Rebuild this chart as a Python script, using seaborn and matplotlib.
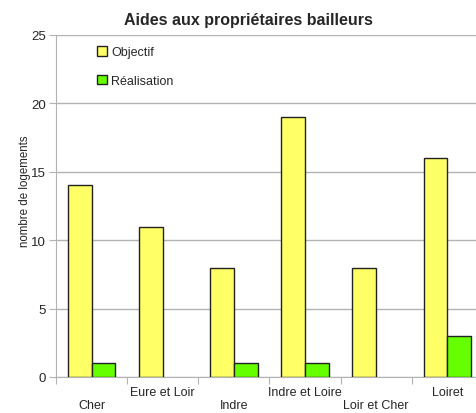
import pandas as pd
import seaborn as sns
import matplotlib.pyplot as plt

departements = ["Cher", "Eure et Loir", "Indre", "Indre et Loire", "Loir et Cher", "Loiret"]
objectif = [14, 11, 8, 19, 8, 16]
realisation = [1, 0, 1, 1, 0, 3]

df = pd.DataFrame({
    "departement": departements * 2,
    "serie": ["Objectif"] * 6 + ["Réalisation"] * 6,
    "valeur": objectif + realisation,
})

sns.set_style("white")
plt.rcParams['font.family'] = ['Liberation Sans', 'DejaVu Sans']

fig = plt.figure(figsize=(4.76, 4.14), dpi=100)
# the right edge of the plot area goes past the image, as in the original
ax = fig.add_axes([56 / 476, 1 - 378 / 414, 427 / 476, 342 / 414])

sns.barplot(data=df, x="departement", y="valeur", hue="serie",
            palette=["#FFFF66", "#66FF00"], saturation=1, edgecolor="#222222", linewidth=1,
            width=0.67, gap=0, ax=ax, zorder=3)

# no outline for empty bars
for p in ax.patches:
    if p.get_height() == 0:
        p.set_linewidth(0)

ax.set_ylim(0, 25)
ax.set_yticks(range(0, 26, 5))
ax.set_xlim(-0.5, 5.5)
ax.yaxis.grid(True, color="#b3b3b3", linewidth=1, zorder=0)
for s in ["top", "right"]:
    ax.spines[s].set_visible(False)
for s in ["left", "bottom"]:
    ax.spines[s].set_color("#b3b3b3")

ax.tick_params(axis="y", left=True, length=5, color="#b3b3b3", labelsize=9.5, pad=2)
# x ticks sit at category boundaries, labels staggered in two rows
ax.set_xticks([i - 0.5 for i in range(6)])
ax.set_xticklabels([])
ax.tick_params(axis="x", bottom=True, length=5, color="#b3b3b3")
for i, name in enumerate(departements):
    y = -0.083 if i % 2 == 0 else -0.043
    ax.text(i, y, name, transform=ax.get_xaxis_transform(), ha="center", va="center", fontsize=9)

ax.set_xlabel("")
ax.set_ylabel("nombre de logements", fontsize=8.3)
ax.yaxis.set_label_coords(-0.058, 0.545)
ax.set_title("Aides aux propriétaires bailleurs", fontsize=11.5, fontweight="bold", pad=8,
             x=(248 - 56) / 427)

leg = ax.legend(loc="upper left", bbox_to_anchor=(0.07, 1.0), frameon=False, fontsize=9,
                handlelength=0.8, handleheight=0.8, handletextpad=0.3, labelspacing=1.3)
for h in leg.legend_handles:
    h.set_edgecolor("#222222")
    h.set_linewidth(1)

plt.savefig("out.png", dpi=100)
